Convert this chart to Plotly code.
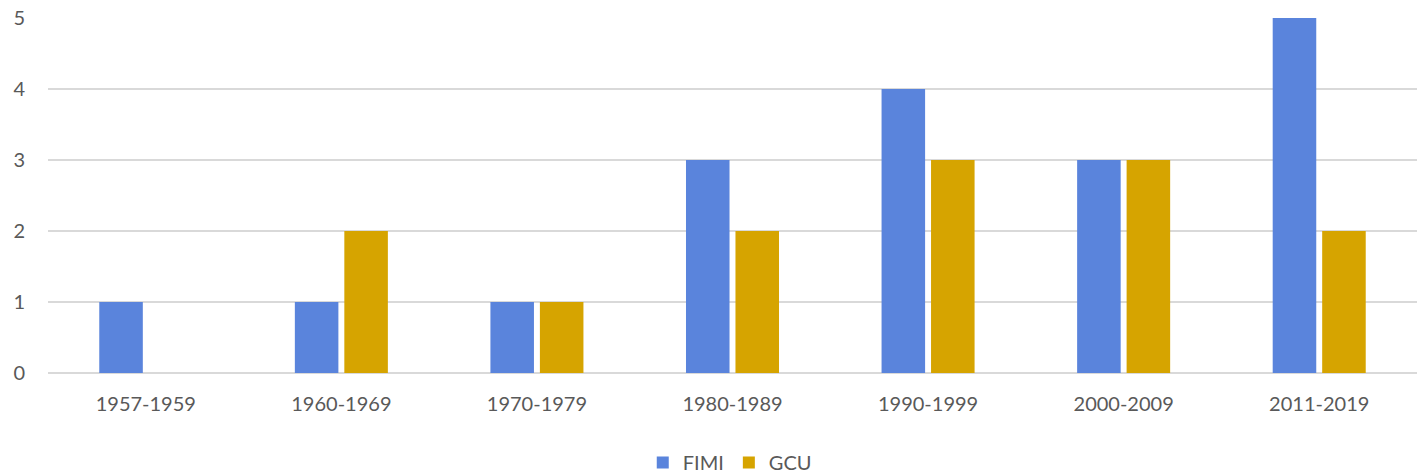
import plotly.graph_objects as go

categories = ["1957-1959", "1960-1969", "1970-1979", "1980-1989", "1990-1999", "2000-2009", "2011-2019"]
fimi = [1, 1, 1, 3, 4, 3, 5]
gcu = [None, 2, 1, 2, 3, 3, 2]
y_ticks = [0, 1, 2, 3, 4, 5]

fig = go.Figure()
fig.add_trace(go.Bar(x=categories, y=fimi, name="FIMI", marker=dict(color="#5a84dc", line=dict(width=0))))
fig.add_trace(go.Bar(x=categories, y=gcu, name="GCU", marker=dict(color="#d6a400", line=dict(width=0))))

fig.update_layout(
    width=1417, height=474,
    margin=dict(l=48, r=0, t=18, b=101, autoexpand=False),
    plot_bgcolor="white", paper_bgcolor="white",
    barmode="group", bargap=0.494, bargroupgap=0.12,
    hovermode=False,
    font=dict(family="Lato, Open Sans, sans-serif", size=20, color="#595959"),
    legend=dict(orientation="h", x=0.515, xanchor="center", xref="container",
                y=0.024, yanchor="middle", yref="container",
                font=dict(size=20, color="#595959"), itemwidth=30, traceorder="normal"),
    xaxis=dict(showgrid=False, showline=False, ticks="", tickfont=dict(size=20),
               automargin=False, ticklabelstandoff=17),
    yaxis=dict(range=[0, 5], tickvals=y_ticks, showgrid=True, gridcolor="#d9d9d9", gridwidth=1.5,
               zeroline=True, zerolinecolor="#d9d9d9", zerolinewidth=1.5, automargin=False,
               ticklabeloverflow="allow",
               ticks="", ticklabelstandoff=22, tickfont=dict(size=20)),
)

# remove the default 8px page margin so the figure fills the window exactly
fig.write_html("out.html", config={"displayModeBar": False},
               post_script="document.body.style.margin='0';")
